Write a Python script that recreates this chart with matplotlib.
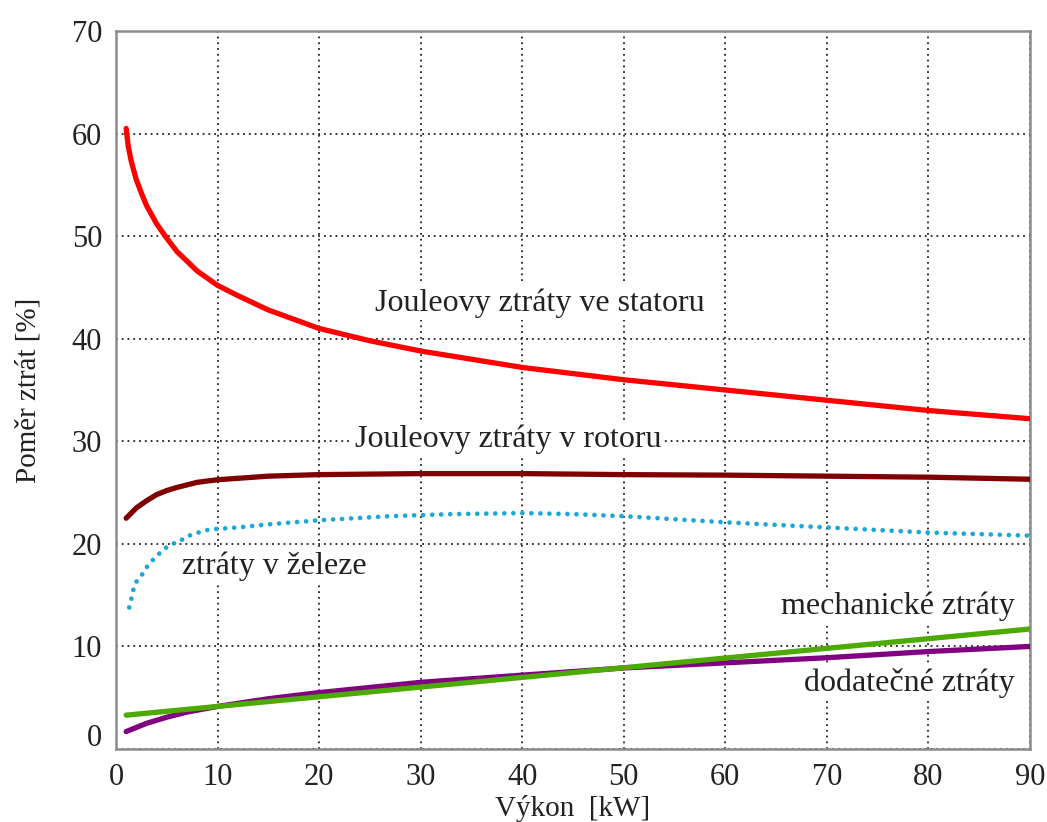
import matplotlib
matplotlib.use('Agg')
import matplotlib.pyplot as plt
from matplotlib.transforms import ScaledTranslation

# Data
x_stator = [1, 1.2, 1.5, 2, 2.5, 3, 4, 5, 6, 8, 10, 12, 15, 20, 25, 30, 40, 50, 60, 70, 80, 90]
y_stator = [60.5, 58.8, 57.3, 55.5, 54.2, 53.0, 51.2, 49.8, 48.5, 46.6, 45.2, 44.2, 42.8, 41.0, 39.8, 38.8, 37.2, 36.0, 35.0, 34.0, 33.0, 32.2]

x_rotor = [1, 2, 3, 4, 5, 6, 8, 10, 15, 20, 30, 40, 50, 60, 70, 80, 90]
y_rotor = [22.5, 23.5, 24.2, 24.8, 25.2, 25.5, 26.0, 26.25, 26.6, 26.75, 26.85, 26.85, 26.75, 26.7, 26.6, 26.5, 26.3]

x_iron = [1.3, 1.5, 1.7, 2, 2.5, 3, 3.5, 4.2, 5, 5.6, 6.3, 7.2, 8.1, 9.2, 12, 15, 20, 27, 33, 40, 45, 50, 60, 70, 80, 90]
y_iron = [13.8, 14.6, 15.5, 16.3, 16.9, 17.7, 18.3, 19.0, 19.7, 20.0, 20.3, 20.8, 21.1, 21.4, 21.6, 21.9, 22.3, 22.7, 22.9, 23.0, 22.9, 22.7, 22.1, 21.6, 21.1, 20.8]

x_mech = [1, 90]
y_mech = [3.3, 11.7]

x_add = [1, 2, 3, 5, 7, 10, 15, 20, 30, 40, 50, 60, 70, 80, 90]
y_add = [1.7, 2.1, 2.5, 3.1, 3.6, 4.15, 4.9, 5.5, 6.5, 7.2, 7.9, 8.4, 8.9, 9.5, 10.0]

x_ticks = [0, 10, 20, 30, 40, 50, 60, 70, 80, 90]
y_ticks = [0, 10, 20, 30, 40, 50, 60, 70]

#Set text font
plt.rcParams['font.family'] = ['Liberation Serif', 'DejaVu Serif']
plt.rcParams['font.size'] = 23

fig = plt.figure(figsize=(10.47, 8.22), dpi=100)
ax = fig.add_axes([116/1047, 1 - 749/822, (1030-116)/1047, (749-31)/822])

#Plot series
ax.plot(x_stator, y_stator, color='#ff0000', lw=3.8, solid_capstyle='round',
        solid_joinstyle='round', zorder=3)
ax.plot(x_rotor, y_rotor, color='#7f0000', lw=3.8, solid_capstyle='round',
        solid_joinstyle='round', zorder=3)
ax.plot(x_iron, y_iron, color='#1aa9d6', lw=3.4, linestyle=(0, (0.01, 1.9)),
        dash_capstyle='round', zorder=3)
ax.plot(x_add, y_add, color='#800080', lw=3.8, solid_capstyle='round',
        solid_joinstyle='round', zorder=3)
ax.plot(x_mech, y_mech, color='#4caa00', lw=3.8, solid_capstyle='round', zorder=4)

#Set axis ranges
ax.set_xlim(0, 90)
ax.set_ylim(0, 70)
ax.set_xticks(x_ticks)
ax.set_yticks(y_ticks)

#Set grid
ax.grid(True, color='#222222', linestyle=(0, (1, 2.2)), linewidth=1.3)
ax.set_axisbelow(True)

for s in ax.spines.values():
    s.set_color('#8c8c8c')
    s.set_linewidth(1.8)
ax.tick_params(length=0, pad=10, colors='#222222', labelsize=22)

#Raise the 0 label on the y axis like in the original
lab0 = ax.get_yticklabels()[0]
lab0.set_transform(lab0.get_transform() + ScaledTranslation(0, 0.14, fig.dpi_scale_trans))

ax.set_xlabel('Výkon  [kW]', fontsize=21, color='#222222', labelpad=2)
ax.set_ylabel('Poměr ztrát [%]', fontsize=21, color='#222222', labelpad=22)

#Series labels
box = dict(facecolor='white', edgecolor='none', pad=2)
ax.text(41.7, 43.5, 'Jouleovy ztráty ve statoru', ha='center', va='center',
        color='#222222', bbox=box, zorder=5)
ax.text(38.6, 30.2, 'Jouleovy ztráty v rotoru', ha='center', va='center',
        color='#222222', bbox=box, zorder=5)
ax.text(15.6, 17.8, 'ztráty v železe', ha='center', va='center',
        color='#222222', bbox=box, zorder=5)
ax.text(88.5, 13.95, 'mechanické ztráty', ha='right', va='center',
        color='#222222', bbox=box, zorder=5)
ax.text(88.5, 6.4, 'dodatečné ztráty', ha='right', va='center',
        color='#222222', bbox=box, zorder=5)

plt.savefig('out.png', dpi=100)
